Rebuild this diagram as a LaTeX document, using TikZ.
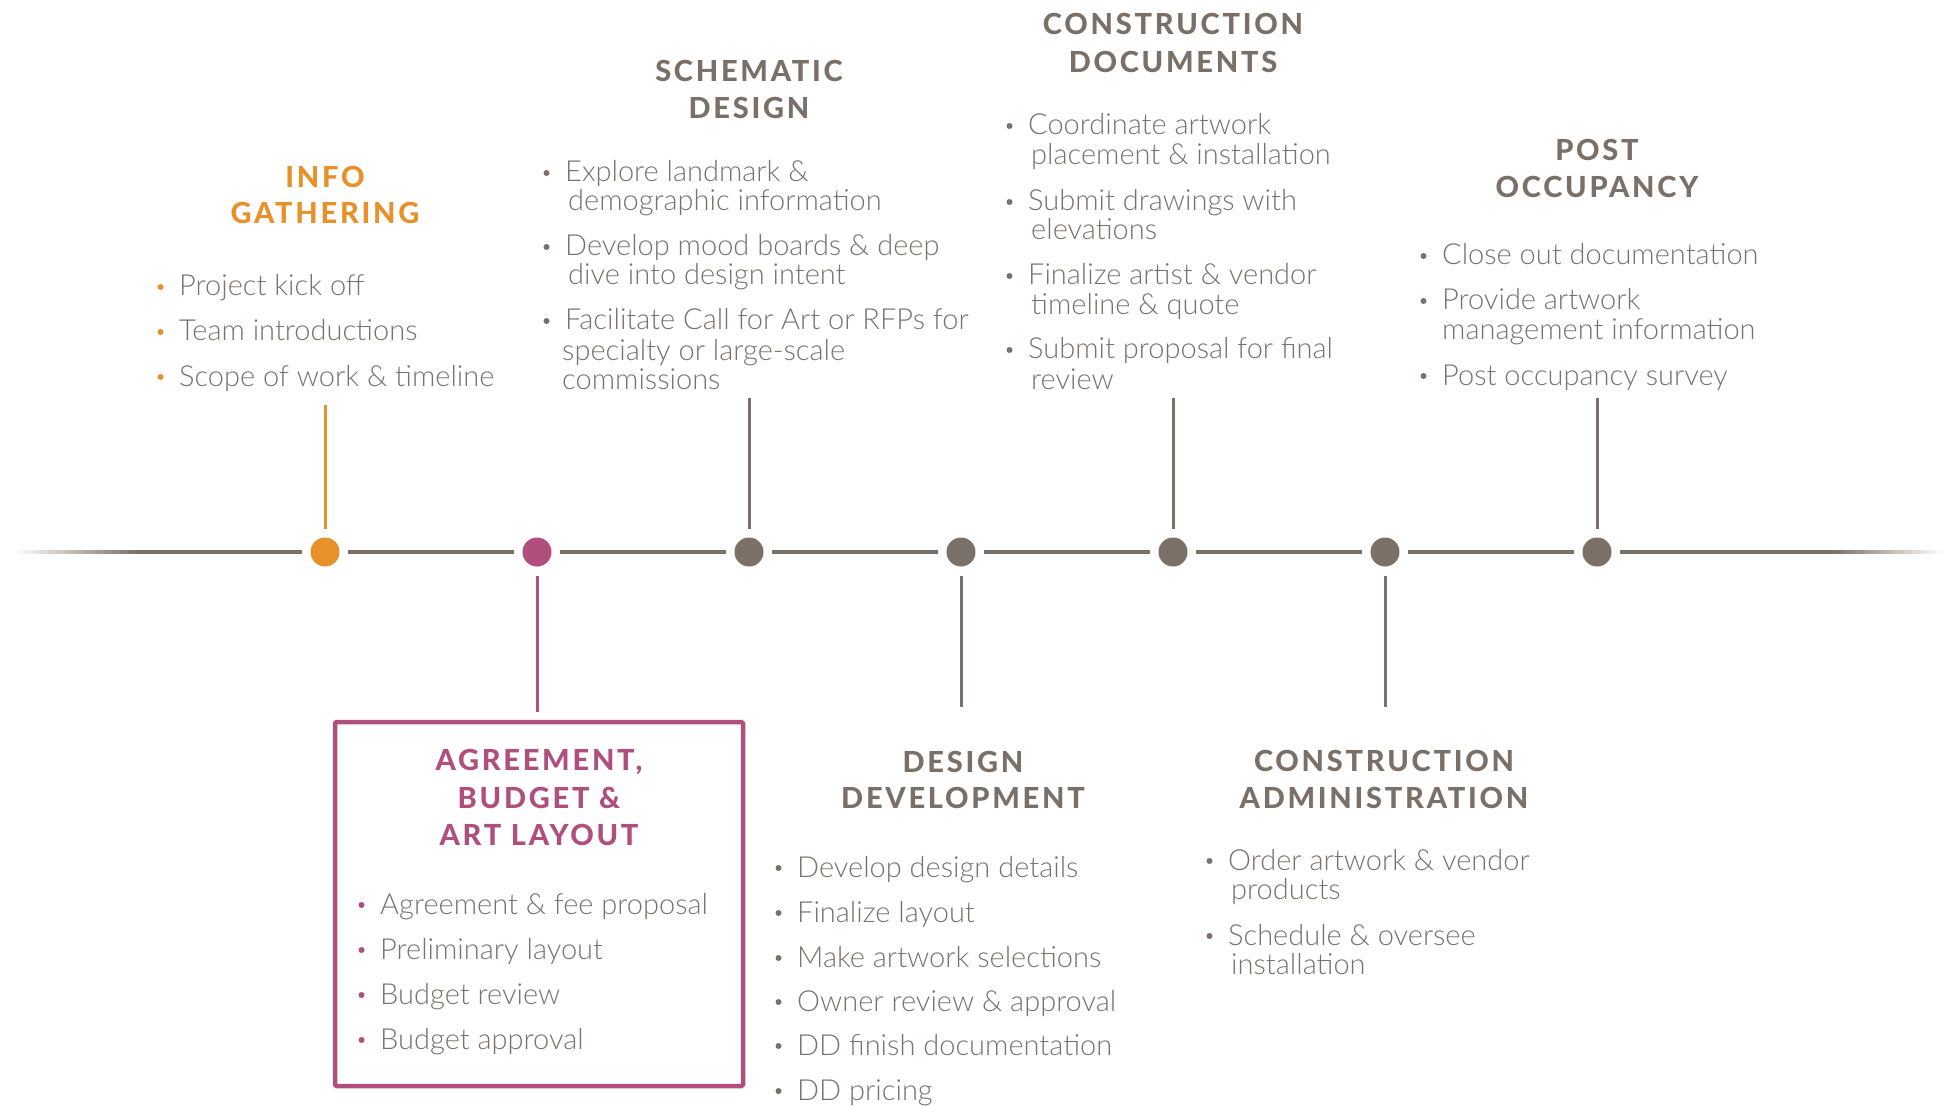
\documentclass[tikz,border=0pt]{standalone}
\usepackage{fontspec}
\setmainfont{Lato}
\newfontfamily\bodyfont{Lato Light}
\newfontfamily\titlefont{Lato Heavy}[LetterSpace=9.5]
\definecolor{orng}{HTML}{E8912A}
\definecolor{mgnt}{HTML}{B04E7D}
\definecolor{lgrey}{HTML}{7A7068}
\definecolor{txtgrey}{HTML}{7A716A}
\tikzset{
  body/.style={anchor=base west, inner sep=0, yshift=-2pt, text=txtgrey, font=\bodyfont\fontsize{29}{31}\selectfont},
  ttl/.style={anchor=base, inner sep=0, yshift=-1pt, font=\titlefont\fontsize{29}{31}\selectfont},
  bul/.style={circle, inner sep=0, yshift=-2pt, minimum size=6},
  tdot/.style={circle, inner sep=0, minimum size=29},
  tl/.style={line width=3.5, draw=lgrey},
  conn/.style={line width=3},
}
\newcommand\bitem[5]{%
  \node[bul, fill=#4] (#1b) at ({#2-18.5},{#3-9}) {};
  \node[body] (#1) at (#2,#3) {#5};}
\newcommand\contl[4]{\node[body] (#1) at (#2,#3) {#4};}
\begin{document}
\begin{tikzpicture}[x=1pt,y=-1pt]
\useasboundingbox (0,0) rectangle (1944,1107);
% timeline dots
\foreach \i/\x/\c in {1/325/orng,2/537/mgnt,3/749/lgrey,4/961/lgrey,5/1173/lgrey,6/1385/lgrey,7/1597/lgrey}
  \node[tdot, fill=\c] (d\i) at (\x,552) {};
% timeline
\coordinate (Ls) at (138,552);
\coordinate (Rs) at (1832,552);
\shade[left color=white, right color=lgrey] (12,550.25) rectangle (138,553.75);
\shade[left color=lgrey, right color=white] (1832,550.25) rectangle (1944,553.75);
\draw[tl, shorten >=8.5] (Ls) -- (d1);
\foreach \a/\b in {1/2,2/3,3/4,4/5,5/6,6/7}
  \draw[tl, shorten <=8.5, shorten >=8.5] (d\a) -- (d\b);
\draw[tl, shorten <=8.5] (d7) -- (Rs);
% top connectors
\coordinate (t1) at (325,405);
\coordinate (t3) at (749,398);
\coordinate (t5) at (1173,398);
\coordinate (t7) at (1597,398);
\draw[conn, orng, shorten >=8.5] (t1) -- (d1);
\draw[conn, lgrey, shorten >=8.5] (t3) -- (d3);
\draw[conn, lgrey, shorten >=8.5] (t5) -- (d5);
\draw[conn, lgrey, shorten >=8.5] (t7) -- (d7);
% bottom connectors
\node[draw=mgnt, line width=4.5, rounded corners=1.5, minimum width=408, minimum height=364, inner sep=0] (box) at (539,904) {};
\coordinate (b4) at (961,707);
\coordinate (b6) at (1385,707);
\draw[conn, mgnt, shorten <=9, shorten >=8] (d2) -- (d2 |- box.north);
\draw[conn, lgrey, shorten <=9] (d4) -- (b4);
\draw[conn, lgrey, shorten <=9] (d6) -- (b6);
% INFO GATHERING
\node[ttl, text=orng] (ig1) at (325,187) {INFO};
\node[ttl, text=orng] (ig2) at (325,223) {GATHERING};
\bitem{ia}{179}{294}{orng}{Project kick off}
\bitem{ib}{179}{339}{orng}{Team introductions}
\bitem{ic}{179}{384}{orng}{Scope of work \& timeline}
% SCHEMATIC DESIGN
\node[ttl, text=lgrey] (sd1) at (749,81) {SCHEMATIC};
\node[ttl, text=lgrey] (sd2) at (749,118) {DESIGN};
\bitem{sa}{565}{180}{lgrey}{Explore landmark \&}
\contl{sa2}{568}{209}{demographic information}
\bitem{sb}{565}{254}{lgrey}{Develop mood boards \& deep}
\contl{sb2}{568}{283}{dive into design intent}
\bitem{sc}{565}{328}{lgrey}{Facilitate Call for Art or RFPs for}
\contl{sc2}{562}{358}{specialty or large-scale}
\contl{sc3}{562}{387}{commissions}
% CONSTRUCTION DOCUMENTS
\node[ttl, text=lgrey] (cd1) at (1173,34) {CONSTRUCTION};
\node[ttl, text=lgrey] (cd2) at (1173,72) {DOCUMENTS};
\bitem{ca}{1028}{133}{lgrey}{Coordinate artwork}
\contl{ca2}{1031}{163}{placement \& installation}
\bitem{cb}{1028}{209}{lgrey}{Submit drawings with}
\contl{cb2}{1031}{238}{elevations}
\bitem{cc}{1028}{283}{lgrey}{Finalize artist \& vendor}
\contl{cc2}{1031}{313}{timeline \& quote}
\bitem{cdd}{1028}{357}{lgrey}{Submit proposal for final}
\contl{cdd2}{1031}{387}{review}
% POST OCCUPANCY
\node[ttl, text=lgrey] (po1) at (1597,160) {POST};
\node[ttl, text=lgrey] (po2) at (1597,197) {OCCUPANCY};
\bitem{pa}{1442}{263}{lgrey}{Close out documentation}
\bitem{pb}{1442}{308}{lgrey}{Provide artwork}
\contl{pb2}{1442}{338}{management information}
\bitem{pc}{1442}{383}{lgrey}{Post occupancy survey}
% AGREEMENT box
\node[ttl, text=mgnt] (ag1) at (539,769) {AGREEMENT,};
\node[ttl, text=mgnt] (ag2) at (539,807) {BUDGET \&};
\node[ttl, text=mgnt] (ag3) at (539,844) {ART LAYOUT};
\bitem{aa}{380}{912}{mgnt}{Agreement \& fee proposal}
\bitem{ab}{380}{957}{mgnt}{Preliminary layout}
\bitem{ac}{380}{1002}{mgnt}{Budget review}
\bitem{ad}{380}{1047}{mgnt}{Budget approval}
% DESIGN DEVELOPMENT
\node[ttl, text=lgrey] (dd1) at (963,771) {DESIGN};
\node[ttl, text=lgrey] (dd2) at (963,807) {DEVELOPMENT};
\bitem{da}{797}{875}{lgrey}{Develop design details}
\bitem{db}{797}{920}{lgrey}{Finalize layout}
\bitem{dc}{797}{965}{lgrey}{Make artwork selections}
\bitem{ddd}{797}{1009}{lgrey}{Owner review \& approval}
\bitem{de}{797}{1053}{lgrey}{DD finish documentation}
\bitem{df}{797}{1098}{lgrey}{DD pricing}
% CONSTRUCTION ADMINISTRATION
\node[ttl, text=lgrey] (cad1) at (1384,770) {CONSTRUCTION};
\node[ttl, text=lgrey] (cad2) at (1384,807) {ADMINISTRATION};
\bitem{xa}{1228}{868}{lgrey}{Order artwork \& vendor}
\contl{xa2}{1231}{897}{products}
\bitem{xb}{1228}{943}{lgrey}{Schedule \& oversee}
\contl{xb2}{1231}{972}{installation}
\end{tikzpicture}
\end{document}
